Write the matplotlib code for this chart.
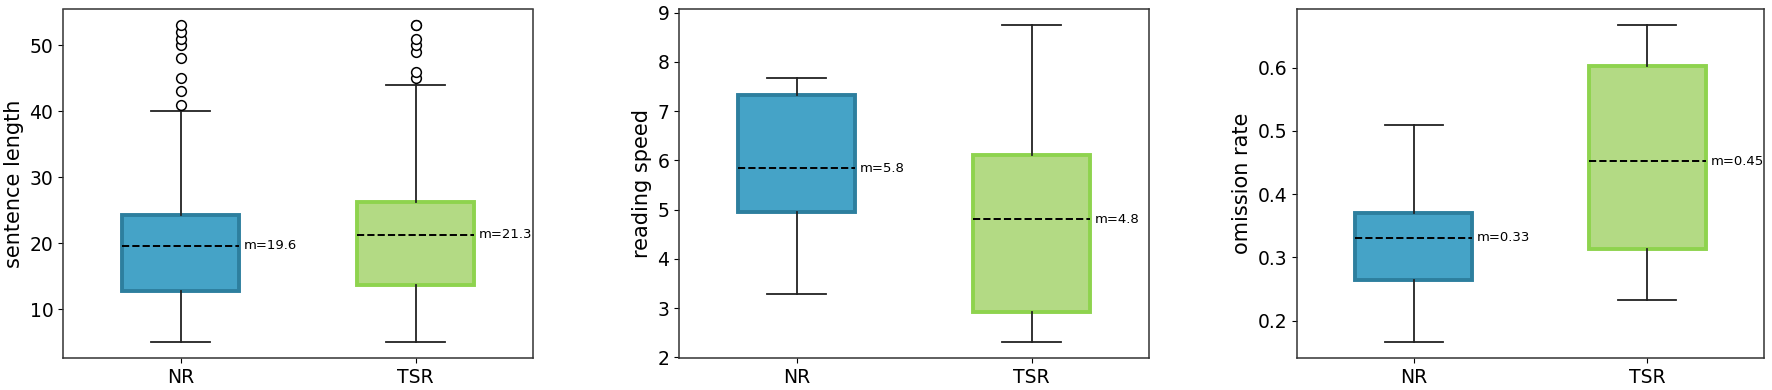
import matplotlib
matplotlib.use("Agg")
import matplotlib.pyplot as plt

groups = ["NR", "TSR"]

# sentence length
sl_q1 = [12.7, 13.7]
sl_q3 = [24.2, 26.2]
sl_lo = [5.0, 5.0]
sl_hi = [40.0, 44.0]
sl_mean = [19.6, 21.3]
sl_fliers = [[41, 43, 45, 48, 50, 51, 52, 53], [45, 46, 49, 50, 51, 53, 53]]

# reading speed
rs_q1 = [4.96, 2.93]
rs_q3 = [7.32, 6.10]
rs_lo = [3.29, 2.31]
rs_hi = [7.68, 8.74]
rs_mean = [5.84, 4.80]

# omission rate
om_q1 = [0.265, 0.313]
om_q3 = [0.371, 0.602]
om_lo = [0.166, 0.233]
om_hi = [0.509, 0.667]
om_mean = [0.331, 0.452]

labels_sl = ["m=19.6", "m=21.3"]
labels_rs = ["m=5.8", "m=4.8"]
labels_om = ["m=0.33", "m=0.45"]

face_colors = ["#45a3c7", "#b3da84"]
edge_colors = ["#2d7f9e", "#8ed34e"]

fig = plt.figure(figsize=(17.72, 3.9), dpi=100)
W, H = 1772, 390
panels = [
    (63, 470, "sentence length", sl_q1, sl_q3, sl_lo, sl_hi, sl_mean, sl_fliers, labels_sl, [10, 20, 30, 40, 50]),
    (679, 470, "reading speed", rs_q1, rs_q3, rs_lo, rs_hi, rs_mean, None, labels_rs, [2, 3, 4, 5, 6, 7, 8, 9]),
    (1297, 467, "omission rate", om_q1, om_q3, om_lo, om_hi, om_mean, None, labels_om, [0.2, 0.3, 0.4, 0.5, 0.6]),
]
top, bottom = 9.5, 358
for left, width, ylabel, q1, q3, lo, hi, mean, fliers, mlabels, yticks in panels:
    ax = fig.add_axes([left / W, (H - bottom) / H, width / W, (bottom - top) / H])
    stats = []
    for i, g in enumerate(groups):
        stats.append(dict(
            label=g, q1=q1[i], q3=q3[i], med=mean[i], mean=mean[i],
            whislo=lo[i], whishi=hi[i],
            fliers=fliers[i] if fliers else [],
        ))
    bp = ax.bxp(stats, positions=[1, 2], widths=0.5, patch_artist=True,
                showmeans=True, meanline=True,
                meanprops=dict(color="black", linestyle="--", linewidth=1.4),
                medianprops=dict(linewidth=0, alpha=0),
                whiskerprops=dict(color="#222222", linewidth=1.3),
                capprops=dict(color="#222222", linewidth=1.3),
                flierprops=dict(marker="o", markerfacecolor="white",
                                markeredgecolor="black", markersize=7,
                                markeredgewidth=1.1))
    for patch, fc, ec in zip(bp["boxes"], face_colors, edge_colors):
        patch.set_facecolor(fc)
        patch.set_edgecolor(ec)
        patch.set_linewidth(2.8)
    for i in range(2):
        ax.text(i + 1 + 0.27, mean[i], mlabels[i], fontsize=9.5,
                va="center", ha="left", color="black")
    ax.set_xlim(0.5, 2.5)
    ax.set_yticks(yticks)
    ax.set_ylabel(ylabel, fontsize=15)
    ax.tick_params(axis="both", labelsize=13.5)
    for s in ax.spines.values():
        s.set_color("#333333")
        s.set_linewidth(1.1)

fig.savefig("out.png", dpi=100)
